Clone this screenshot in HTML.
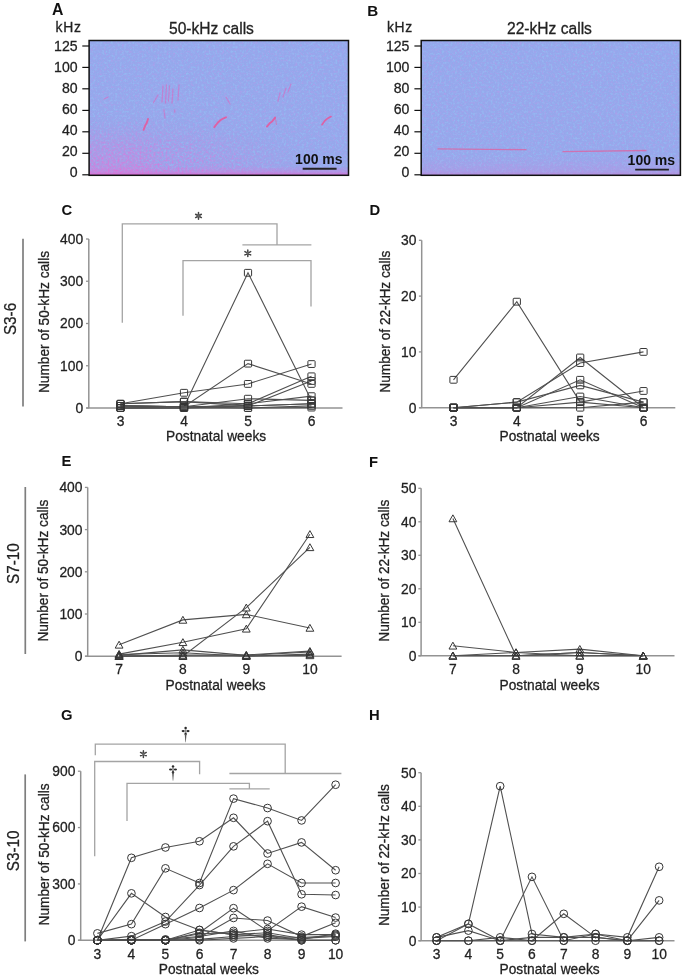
<!DOCTYPE html>
<html><head><meta charset="utf-8"><style>
html,body{margin:0;padding:0;background:#fff;}
body{width:685px;height:979px;overflow:hidden;}
svg{display:block;font-family:"Liberation Sans", sans-serif;will-change:transform;filter:blur(0.35px);}
</style></head><body>
<svg width="685" height="979" viewBox="0 0 685 979">
<defs>
<filter id="nPink" x="0" y="0" width="100%" height="100%" color-interpolation-filters="sRGB">
<feTurbulence type="fractalNoise" baseFrequency="0.45" numOctaves="2" seed="7" result="n"/>
<feColorMatrix in="n" type="matrix" values="0 0 0 0 0.68  0 0 0 0 0.62  0 0 0 0 0.92  3.2 0 0 0 -1.55"/>
</filter>
<filter id="nBlue" x="0" y="0" width="100%" height="100%" color-interpolation-filters="sRGB">
<feTurbulence type="fractalNoise" baseFrequency="0.45" numOctaves="2" seed="19" result="n"/>
<feColorMatrix in="n" type="matrix" values="0 0 0 0 0.58  0 0 0 0 0.73  0 0 0 0 0.95  3.2 0 0 0 -1.55"/>
</filter>
<filter id="soft" x="-20%" y="-20%" width="140%" height="140%"><feGaussianBlur stdDeviation="0.45"/></filter>
<filter id="nMag" x="0" y="0" width="100%" height="100%" color-interpolation-filters="sRGB">
<feTurbulence type="fractalNoise" baseFrequency="0.5" numOctaves="2" seed="31" result="n"/>
<feColorMatrix in="n" type="matrix" values="0 0 0 0 0.88  0 0 0 0 0.45  0 0 0 0 0.85  2.6 0 0 0 -1.05"/>
</filter>
<radialGradient id="gA" cx="0.12" cy="1" r="0.75" fx="0.12" fy="1" gradientTransform="translate(0.12 1) scale(1 1.3) translate(-0.12 -1)">
<stop offset="0" stop-color="#fff" stop-opacity="1"/><stop offset="0.5" stop-color="#fff" stop-opacity="0.55"/><stop offset="1" stop-color="#fff" stop-opacity="0"/>
</radialGradient>
<mask id="mA" maskContentUnits="objectBoundingBox"><rect width="1" height="1" fill="url(#gA)"/></mask>
<linearGradient id="bg" x1="0" y1="0" x2="0" y2="1">
<stop offset="0" stop-color="#95a8ec"/><stop offset="1" stop-color="#97a7eb"/>
</linearGradient>
<linearGradient id="pinkA" x1="0" y1="0" x2="0" y2="1">
<stop offset="0" stop-color="#e070d8" stop-opacity="0"/>
<stop offset="0.6" stop-color="#e070d8" stop-opacity="0.35"/>
<stop offset="1" stop-color="#e060d0" stop-opacity="0.75"/>
</linearGradient>
<linearGradient id="pinkA2" x1="0" y1="0" x2="0" y2="1">
<stop offset="0" stop-color="#d880d8" stop-opacity="0"/>
<stop offset="1" stop-color="#d880d8" stop-opacity="0.45"/>
</linearGradient>
<linearGradient id="fadeRg" x1="0" y1="0" x2="1" y2="0">
<stop offset="0" stop-color="#fff"/><stop offset="0.6" stop-color="#fff"/><stop offset="1" stop-color="#fff" stop-opacity="0"/>
</linearGradient>
<mask id="fadeR" maskContentUnits="objectBoundingBox"><rect width="1" height="1" fill="url(#fadeRg)"/></mask>
<linearGradient id="pinkB" x1="0" y1="0" x2="0" y2="1">
<stop offset="0.85" stop-color="#c890e0" stop-opacity="0"/>
<stop offset="0.97" stop-color="#d080d8" stop-opacity="0.25"/>
<stop offset="1" stop-color="#d070d0" stop-opacity="0.5"/>
</linearGradient>
</defs>
<rect width="685" height="979" fill="#fff"/>
<g>
<text transform="translate(52.00 14.60)" font-size="15.8" text-anchor="start" font-weight="bold" fill="#111">A</text>
<text transform="translate(55.60 32.40)" font-size="13.9" text-anchor="start" fill="#222" stroke="#222" stroke-width="0.28" letter-spacing="0.7">kHz</text>
<text transform="translate(169.00 33.50)" font-size="15.6" text-anchor="start" fill="#222" stroke="#222" stroke-width="0.28">50-kHz calls</text>
<rect x="89.1" y="40.5" width="259.4" height="134.8" fill="url(#bg)"/>
<rect x="89.1" y="40.5" width="259.4" height="134.8" fill="#fff" filter="url(#nPink)" opacity="0.75"/>
<rect x="89.1" y="40.5" width="259.4" height="134.8" fill="#fff" filter="url(#nBlue)" opacity="0.9"/>
<rect x="89.1" y="127.30000000000001" width="75" height="48" fill="url(#pinkA2)" mask="url(#fadeR)" opacity="0.7"/>
<rect x="89.1" y="115.30000000000001" width="259.4" height="60" fill="#fff" filter="url(#nMag)" mask="url(#mA)"/>
<rect x="89.1" y="166.3" width="259.4" height="9" fill="url(#pinkA)"/>
<rect x="89.1" y="40.5" width="259.4" height="134.8" fill="none" stroke="#111" stroke-width="1.5"/>
<line x1="82.30" y1="46.00" x2="89.10" y2="46.00" stroke="#111" stroke-width="1.2"/>
<text transform="translate(77.60 50.70) scale(0.94 1)" font-size="15.0" text-anchor="end" fill="#222" stroke="#222" stroke-width="0.28">125</text>
<line x1="82.30" y1="67.40" x2="89.10" y2="67.40" stroke="#111" stroke-width="1.2"/>
<text transform="translate(77.60 71.80) scale(0.94 1)" font-size="15.0" text-anchor="end" fill="#222" stroke="#222" stroke-width="0.28">100</text>
<line x1="82.30" y1="88.80" x2="89.10" y2="88.80" stroke="#111" stroke-width="1.2"/>
<text transform="translate(77.60 92.90) scale(0.94 1)" font-size="15.0" text-anchor="end" fill="#222" stroke="#222" stroke-width="0.28">80</text>
<line x1="82.30" y1="110.40" x2="89.10" y2="110.40" stroke="#111" stroke-width="1.2"/>
<text transform="translate(77.60 114.00) scale(0.94 1)" font-size="15.0" text-anchor="end" fill="#222" stroke="#222" stroke-width="0.28">60</text>
<line x1="82.30" y1="131.80" x2="89.10" y2="131.80" stroke="#111" stroke-width="1.2"/>
<text transform="translate(77.60 135.10) scale(0.94 1)" font-size="15.0" text-anchor="end" fill="#222" stroke="#222" stroke-width="0.28">40</text>
<line x1="82.30" y1="153.30" x2="89.10" y2="153.30" stroke="#111" stroke-width="1.2"/>
<text transform="translate(77.60 156.20) scale(0.94 1)" font-size="15.0" text-anchor="end" fill="#222" stroke="#222" stroke-width="0.28">20</text>
<line x1="82.30" y1="174.80" x2="89.10" y2="174.80" stroke="#111" stroke-width="1.2"/>
<text transform="translate(77.60 177.30) scale(0.94 1)" font-size="15.0" text-anchor="end" fill="#222" stroke="#222" stroke-width="0.28">0</text>
<g fill="none" stroke="#e55a9e" stroke-linecap="round" filter="url(#soft)" opacity="0.9">
<path d="M143.5 129.8 L145.5 125 L146.5 123.5 L148 119" stroke-width="1.9"/>
<path d="M214.3 127.2 L218 122.5 L220 120.5 L223 118.5 L226 117.3" stroke-width="1.9"/>
<path d="M266.9 126.6 L270 123 L272.2 121.4 L275.1 117.6" stroke-width="1.9"/>
<path d="M275.4 118 L276.5 124.5" stroke-width="1.1" opacity="0.6"/>
<path d="M322 124.7 L325 120.5 L327.5 118.5 L331 116.6" stroke-width="1.7"/>
</g>
<g fill="none" stroke="#d868c0" stroke-width="1.3" opacity="0.6" stroke-linecap="round" stroke-dasharray="2.2 1.2" filter="url(#soft)">
<path d="M162 102 L163 86"/>
<path d="M165.5 103 L166.5 85"/>
<path d="M168.5 101 L169.5 86"/>
<path d="M172 103 L173 89"/>
<path d="M178 100 L179 85"/>
<path d="M153.5 102.5 L158 95"/>
<path d="M104 99 L108 97"/>
<path d="M226 97 L230 104"/>
<path d="M278 101 L280 93 M283 97 L286 88 M288 92 L291 84"/>
<path d="M164 110 L165 118 M174.5 110 L175 113"/>
</g>
<text transform="translate(295.10 163.90)" font-size="14.0" text-anchor="start" font-weight="bold" fill="#111">100 ms</text>
<line x1="302.70" y1="168.70" x2="336.60" y2="168.70" stroke="#222" stroke-width="1.9"/>
</g>
<g>
<text transform="translate(367.30 16.10)" font-size="15.2" text-anchor="start" font-weight="bold" fill="#111">B</text>
<text transform="translate(386.90 32.40)" font-size="13.9" text-anchor="start" fill="#222" stroke="#222" stroke-width="0.28" letter-spacing="0.7">kHz</text>
<text transform="translate(507.00 33.50)" font-size="15.6" text-anchor="start" fill="#222" stroke="#222" stroke-width="0.28">22-kHz calls</text>
<rect x="421.2" y="40.5" width="259.2" height="134.8" fill="url(#bg)"/>
<rect x="421.2" y="40.5" width="259.2" height="134.8" fill="#fff" filter="url(#nPink)" opacity="0.75"/>
<rect x="421.2" y="40.5" width="259.2" height="134.8" fill="#fff" filter="url(#nBlue)" opacity="0.9"/>
<rect x="421.2" y="40.5" width="259.2" height="134.8" fill="url(#pinkB)"/>
<rect x="421.2" y="40.5" width="259.2" height="134.8" fill="none" stroke="#111" stroke-width="1.5"/>
<line x1="414.40" y1="46.00" x2="421.20" y2="46.00" stroke="#111" stroke-width="1.2"/>
<text transform="translate(409.40 50.70) scale(0.94 1)" font-size="15.0" text-anchor="end" fill="#222" stroke="#222" stroke-width="0.28">125</text>
<line x1="414.40" y1="67.40" x2="421.20" y2="67.40" stroke="#111" stroke-width="1.2"/>
<text transform="translate(409.40 71.80) scale(0.94 1)" font-size="15.0" text-anchor="end" fill="#222" stroke="#222" stroke-width="0.28">100</text>
<line x1="414.40" y1="88.80" x2="421.20" y2="88.80" stroke="#111" stroke-width="1.2"/>
<text transform="translate(409.40 92.90) scale(0.94 1)" font-size="15.0" text-anchor="end" fill="#222" stroke="#222" stroke-width="0.28">80</text>
<line x1="414.40" y1="110.40" x2="421.20" y2="110.40" stroke="#111" stroke-width="1.2"/>
<text transform="translate(409.40 114.00) scale(0.94 1)" font-size="15.0" text-anchor="end" fill="#222" stroke="#222" stroke-width="0.28">60</text>
<line x1="414.40" y1="131.80" x2="421.20" y2="131.80" stroke="#111" stroke-width="1.2"/>
<text transform="translate(409.40 135.10) scale(0.94 1)" font-size="15.0" text-anchor="end" fill="#222" stroke="#222" stroke-width="0.28">40</text>
<line x1="414.40" y1="153.30" x2="421.20" y2="153.30" stroke="#111" stroke-width="1.2"/>
<text transform="translate(409.40 156.20) scale(0.94 1)" font-size="15.0" text-anchor="end" fill="#222" stroke="#222" stroke-width="0.28">20</text>
<line x1="414.40" y1="174.80" x2="421.20" y2="174.80" stroke="#111" stroke-width="1.2"/>
<text transform="translate(409.40 177.30) scale(0.94 1)" font-size="15.0" text-anchor="end" fill="#222" stroke="#222" stroke-width="0.28">0</text>
<g fill="none" stroke="#e0609e" stroke-width="1.3" opacity="0.75" filter="url(#soft)">
<path d="M437.5 148.9 L526.5 149.7"/>
<path d="M562.5 151.7 L646.5 150.5"/>
</g>
<text transform="translate(627.60 164.90)" font-size="14.0" text-anchor="start" font-weight="bold" fill="#111">100 ms</text>
<line x1="635.20" y1="169.60" x2="668.90" y2="169.60" stroke="#222" stroke-width="1.9"/>
</g>
<text transform="translate(61.50 215.20)" font-size="14.8" text-anchor="start" font-weight="bold" fill="#111">C</text>
<text transform="translate(16.20 335.10) rotate(-90) scale(0.92 1)" font-size="16.6" text-anchor="start" fill="#222" stroke="#222" stroke-width="0.28">S3-6</text>
<line x1="23.00" y1="238.80" x2="23.00" y2="406.60" stroke="#7e7e7e" stroke-width="1.7"/>
<line x1="88.80" y1="239.00" x2="88.80" y2="408.00" stroke="#939393" stroke-width="1.5"/>
<line x1="86.30" y1="408.00" x2="342.50" y2="408.00" stroke="#939393" stroke-width="1.5"/>
<line x1="86.00" y1="408.00" x2="88.80" y2="408.00" stroke="#939393" stroke-width="1.3"/>
<text transform="translate(83.20 412.90) scale(0.95 1)" font-size="14.6" text-anchor="end" fill="#222" stroke="#222" stroke-width="0.28">0</text>
<line x1="86.00" y1="365.75" x2="88.80" y2="365.75" stroke="#939393" stroke-width="1.3"/>
<text transform="translate(83.20 370.65) scale(0.95 1)" font-size="14.6" text-anchor="end" fill="#222" stroke="#222" stroke-width="0.28">100</text>
<line x1="86.00" y1="323.50" x2="88.80" y2="323.50" stroke="#939393" stroke-width="1.3"/>
<text transform="translate(83.20 328.40) scale(0.95 1)" font-size="14.6" text-anchor="end" fill="#222" stroke="#222" stroke-width="0.28">200</text>
<line x1="86.00" y1="281.25" x2="88.80" y2="281.25" stroke="#939393" stroke-width="1.3"/>
<text transform="translate(83.20 286.15) scale(0.95 1)" font-size="14.6" text-anchor="end" fill="#222" stroke="#222" stroke-width="0.28">300</text>
<line x1="86.00" y1="239.00" x2="88.80" y2="239.00" stroke="#939393" stroke-width="1.3"/>
<text transform="translate(83.20 243.90) scale(0.95 1)" font-size="14.6" text-anchor="end" fill="#222" stroke="#222" stroke-width="0.28">400</text>
<text transform="translate(120.50 425.80) scale(0.95 1)" font-size="14.6" text-anchor="middle" fill="#222" stroke="#222" stroke-width="0.28">3</text>
<text transform="translate(184.00 425.80) scale(0.95 1)" font-size="14.6" text-anchor="middle" fill="#222" stroke="#222" stroke-width="0.28">4</text>
<text transform="translate(248.00 425.80) scale(0.95 1)" font-size="14.6" text-anchor="middle" fill="#222" stroke="#222" stroke-width="0.28">5</text>
<text transform="translate(311.50 425.80) scale(0.95 1)" font-size="14.6" text-anchor="middle" fill="#222" stroke="#222" stroke-width="0.28">6</text>
<text transform="translate(166.00 441.10) scale(0.97 1)" font-size="14.2" text-anchor="start" fill="#222" stroke="#222" stroke-width="0.28">Postnatal weeks</text>
<text transform="translate(48.80 393.00) rotate(-90) scale(0.95 1)" font-size="14.4" text-anchor="start" fill="#222" stroke="#222" stroke-width="0.28">Number of 50-kHz calls</text>
<g>
<polyline points="120.50,403.77 184.00,392.79 248.00,383.92 311.50,364.06" stroke="#505050" stroke-width="1.1" fill="none"/>
<polyline points="120.50,405.89 184.00,406.73 248.00,272.80 311.50,400.39" stroke="#505050" stroke-width="1.1" fill="none"/>
<polyline points="120.50,405.89 184.00,406.73 248.00,363.64 311.50,383.92" stroke="#505050" stroke-width="1.1" fill="none"/>
<polyline points="120.50,403.77 184.00,401.66 248.00,403.77 311.50,376.31" stroke="#505050" stroke-width="1.1" fill="none"/>
<polyline points="120.50,405.89 184.00,406.73 248.00,405.89 311.50,380.96" stroke="#505050" stroke-width="1.1" fill="none"/>
<polyline points="120.50,408.00 184.00,406.73 248.00,398.70 311.50,400.39" stroke="#505050" stroke-width="1.1" fill="none"/>
<polyline points="120.50,408.00 184.00,408.00 248.00,405.89 311.50,403.77" stroke="#505050" stroke-width="1.1" fill="none"/>
<polyline points="120.50,405.89 184.00,406.73 248.00,408.00 311.50,405.89" stroke="#505050" stroke-width="1.1" fill="none"/>
<polyline points="120.50,408.00 184.00,408.00 248.00,408.00 311.50,407.58" stroke="#505050" stroke-width="1.1" fill="none"/>
<polyline points="120.50,408.00 184.00,408.00 248.00,403.77 311.50,396.17" stroke="#505050" stroke-width="1.1" fill="none"/>
<polyline points="120.50,403.77 184.00,401.66 248.00,405.89 311.50,403.77" stroke="#505050" stroke-width="1.1" fill="none"/>
<rect x="116.90" y="400.38" width="7.2" height="6.8" rx="0.8" fill="none" stroke="#363636" stroke-width="1"/>
<rect x="180.40" y="389.39" width="7.2" height="6.8" rx="0.8" fill="none" stroke="#363636" stroke-width="1"/>
<rect x="244.40" y="380.52" width="7.2" height="6.8" rx="0.8" fill="none" stroke="#363636" stroke-width="1"/>
<rect x="307.90" y="360.66" width="7.2" height="6.8" rx="0.8" fill="none" stroke="#363636" stroke-width="1"/>
<rect x="116.90" y="402.49" width="7.2" height="6.8" rx="0.8" fill="none" stroke="#363636" stroke-width="1"/>
<rect x="180.40" y="403.33" width="7.2" height="6.8" rx="0.8" fill="none" stroke="#363636" stroke-width="1"/>
<rect x="244.40" y="269.40" width="7.2" height="6.8" rx="0.8" fill="none" stroke="#363636" stroke-width="1"/>
<rect x="307.90" y="397.00" width="7.2" height="6.8" rx="0.8" fill="none" stroke="#363636" stroke-width="1"/>
<rect x="116.90" y="402.49" width="7.2" height="6.8" rx="0.8" fill="none" stroke="#363636" stroke-width="1"/>
<rect x="180.40" y="403.33" width="7.2" height="6.8" rx="0.8" fill="none" stroke="#363636" stroke-width="1"/>
<rect x="244.40" y="360.24" width="7.2" height="6.8" rx="0.8" fill="none" stroke="#363636" stroke-width="1"/>
<rect x="307.90" y="380.52" width="7.2" height="6.8" rx="0.8" fill="none" stroke="#363636" stroke-width="1"/>
<rect x="116.90" y="400.38" width="7.2" height="6.8" rx="0.8" fill="none" stroke="#363636" stroke-width="1"/>
<rect x="180.40" y="398.26" width="7.2" height="6.8" rx="0.8" fill="none" stroke="#363636" stroke-width="1"/>
<rect x="244.40" y="400.38" width="7.2" height="6.8" rx="0.8" fill="none" stroke="#363636" stroke-width="1"/>
<rect x="307.90" y="372.91" width="7.2" height="6.8" rx="0.8" fill="none" stroke="#363636" stroke-width="1"/>
<rect x="116.90" y="402.49" width="7.2" height="6.8" rx="0.8" fill="none" stroke="#363636" stroke-width="1"/>
<rect x="180.40" y="403.33" width="7.2" height="6.8" rx="0.8" fill="none" stroke="#363636" stroke-width="1"/>
<rect x="244.40" y="402.49" width="7.2" height="6.8" rx="0.8" fill="none" stroke="#363636" stroke-width="1"/>
<rect x="307.90" y="377.56" width="7.2" height="6.8" rx="0.8" fill="none" stroke="#363636" stroke-width="1"/>
<rect x="116.90" y="404.60" width="7.2" height="6.8" rx="0.8" fill="none" stroke="#363636" stroke-width="1"/>
<rect x="180.40" y="403.33" width="7.2" height="6.8" rx="0.8" fill="none" stroke="#363636" stroke-width="1"/>
<rect x="244.40" y="395.31" width="7.2" height="6.8" rx="0.8" fill="none" stroke="#363636" stroke-width="1"/>
<rect x="307.90" y="397.00" width="7.2" height="6.8" rx="0.8" fill="none" stroke="#363636" stroke-width="1"/>
<rect x="116.90" y="404.60" width="7.2" height="6.8" rx="0.8" fill="none" stroke="#363636" stroke-width="1"/>
<rect x="180.40" y="404.60" width="7.2" height="6.8" rx="0.8" fill="none" stroke="#363636" stroke-width="1"/>
<rect x="244.40" y="402.49" width="7.2" height="6.8" rx="0.8" fill="none" stroke="#363636" stroke-width="1"/>
<rect x="307.90" y="400.38" width="7.2" height="6.8" rx="0.8" fill="none" stroke="#363636" stroke-width="1"/>
<rect x="116.90" y="402.49" width="7.2" height="6.8" rx="0.8" fill="none" stroke="#363636" stroke-width="1"/>
<rect x="180.40" y="403.33" width="7.2" height="6.8" rx="0.8" fill="none" stroke="#363636" stroke-width="1"/>
<rect x="244.40" y="404.60" width="7.2" height="6.8" rx="0.8" fill="none" stroke="#363636" stroke-width="1"/>
<rect x="307.90" y="402.49" width="7.2" height="6.8" rx="0.8" fill="none" stroke="#363636" stroke-width="1"/>
<rect x="116.90" y="404.60" width="7.2" height="6.8" rx="0.8" fill="none" stroke="#363636" stroke-width="1"/>
<rect x="180.40" y="404.60" width="7.2" height="6.8" rx="0.8" fill="none" stroke="#363636" stroke-width="1"/>
<rect x="244.40" y="404.60" width="7.2" height="6.8" rx="0.8" fill="none" stroke="#363636" stroke-width="1"/>
<rect x="307.90" y="404.18" width="7.2" height="6.8" rx="0.8" fill="none" stroke="#363636" stroke-width="1"/>
<rect x="116.90" y="404.60" width="7.2" height="6.8" rx="0.8" fill="none" stroke="#363636" stroke-width="1"/>
<rect x="180.40" y="404.60" width="7.2" height="6.8" rx="0.8" fill="none" stroke="#363636" stroke-width="1"/>
<rect x="244.40" y="400.38" width="7.2" height="6.8" rx="0.8" fill="none" stroke="#363636" stroke-width="1"/>
<rect x="307.90" y="392.77" width="7.2" height="6.8" rx="0.8" fill="none" stroke="#363636" stroke-width="1"/>
<rect x="116.90" y="400.38" width="7.2" height="6.8" rx="0.8" fill="none" stroke="#363636" stroke-width="1"/>
<rect x="180.40" y="398.26" width="7.2" height="6.8" rx="0.8" fill="none" stroke="#363636" stroke-width="1"/>
<rect x="244.40" y="402.49" width="7.2" height="6.8" rx="0.8" fill="none" stroke="#363636" stroke-width="1"/>
<rect x="307.90" y="400.38" width="7.2" height="6.8" rx="0.8" fill="none" stroke="#363636" stroke-width="1"/>
</g>
<g fill="none" stroke="#a4a4a4" stroke-width="1.3">
<polyline points="122.3,322.8 122.3,223.8 277,223.8 277,244.9"/>
<line x1="242.4" y1="244.9" x2="311.4" y2="244.9"/>
<polyline points="183,315.8 183,260.7 311,260.7 311,306.6"/>
</g>
<path d="M198.50 212.60L198.50 219.20M195.64 214.25L201.36 217.55M195.64 217.55L201.36 214.25" stroke="#444" stroke-width="1.5" stroke-linecap="round" fill="none"/>
<circle cx="198.5" cy="215.9" r="1.3" fill="#666"/>
<path d="M247.80 250.00L247.80 256.60M244.94 251.65L250.66 254.95M244.94 254.95L250.66 251.65" stroke="#444" stroke-width="1.5" stroke-linecap="round" fill="none"/>
<circle cx="247.8" cy="253.3" r="1.3" fill="#666"/>
<text transform="translate(369.50 215.20)" font-size="14.8" text-anchor="start" font-weight="bold" fill="#111">D</text>
<line x1="421.70" y1="240.30" x2="421.70" y2="407.70" stroke="#939393" stroke-width="1.5"/>
<line x1="419.20" y1="407.70" x2="675.30" y2="407.70" stroke="#939393" stroke-width="1.5"/>
<line x1="418.90" y1="407.70" x2="421.70" y2="407.70" stroke="#939393" stroke-width="1.3"/>
<text transform="translate(416.50 412.60) scale(0.95 1)" font-size="14.6" text-anchor="end" fill="#222" stroke="#222" stroke-width="0.28">0</text>
<line x1="418.90" y1="351.90" x2="421.70" y2="351.90" stroke="#939393" stroke-width="1.3"/>
<text transform="translate(416.50 356.80) scale(0.95 1)" font-size="14.6" text-anchor="end" fill="#222" stroke="#222" stroke-width="0.28">10</text>
<line x1="418.90" y1="296.10" x2="421.70" y2="296.10" stroke="#939393" stroke-width="1.3"/>
<text transform="translate(416.50 301.00) scale(0.95 1)" font-size="14.6" text-anchor="end" fill="#222" stroke="#222" stroke-width="0.28">20</text>
<line x1="418.90" y1="240.30" x2="421.70" y2="240.30" stroke="#939393" stroke-width="1.3"/>
<text transform="translate(416.50 245.20) scale(0.95 1)" font-size="14.6" text-anchor="end" fill="#222" stroke="#222" stroke-width="0.28">30</text>
<text transform="translate(453.50 425.60) scale(0.95 1)" font-size="14.6" text-anchor="middle" fill="#222" stroke="#222" stroke-width="0.28">3</text>
<text transform="translate(516.80 425.60) scale(0.95 1)" font-size="14.6" text-anchor="middle" fill="#222" stroke="#222" stroke-width="0.28">4</text>
<text transform="translate(580.20 425.60) scale(0.95 1)" font-size="14.6" text-anchor="middle" fill="#222" stroke="#222" stroke-width="0.28">5</text>
<text transform="translate(643.50 425.60) scale(0.95 1)" font-size="14.6" text-anchor="middle" fill="#222" stroke="#222" stroke-width="0.28">6</text>
<text transform="translate(499.50 441.10) scale(0.97 1)" font-size="14.2" text-anchor="start" fill="#222" stroke="#222" stroke-width="0.28">Postnatal weeks</text>
<text transform="translate(389.60 392.70) rotate(-90) scale(0.95 1)" font-size="14.4" text-anchor="start" fill="#222" stroke="#222" stroke-width="0.28">Number of 22-kHz calls</text>
<g>
<polyline points="453.50,379.80 516.80,301.68 580.20,402.12 643.50,390.96" stroke="#505050" stroke-width="1.1" fill="none"/>
<polyline points="453.50,407.70 516.80,407.70 580.20,357.48 643.50,407.70" stroke="#505050" stroke-width="1.1" fill="none"/>
<polyline points="453.50,407.70 516.80,402.12 580.20,363.06 643.50,351.90" stroke="#505050" stroke-width="1.1" fill="none"/>
<polyline points="453.50,407.70 516.80,407.70 580.20,379.80 643.50,407.70" stroke="#505050" stroke-width="1.1" fill="none"/>
<polyline points="453.50,407.70 516.80,402.12 580.20,385.38 643.50,402.12" stroke="#505050" stroke-width="1.1" fill="none"/>
<polyline points="453.50,407.70 516.80,407.70 580.20,396.54 643.50,407.70" stroke="#505050" stroke-width="1.1" fill="none"/>
<polyline points="453.50,407.70 516.80,407.70 580.20,402.12 643.50,407.70" stroke="#505050" stroke-width="1.1" fill="none"/>
<polyline points="453.50,407.70 516.80,407.70 580.20,407.70 643.50,402.12" stroke="#505050" stroke-width="1.1" fill="none"/>
<rect x="449.90" y="376.40" width="7.2" height="6.8" rx="0.8" fill="none" stroke="#363636" stroke-width="1"/>
<rect x="513.20" y="298.28" width="7.2" height="6.8" rx="0.8" fill="none" stroke="#363636" stroke-width="1"/>
<rect x="576.60" y="398.72" width="7.2" height="6.8" rx="0.8" fill="none" stroke="#363636" stroke-width="1"/>
<rect x="639.90" y="387.56" width="7.2" height="6.8" rx="0.8" fill="none" stroke="#363636" stroke-width="1"/>
<rect x="449.90" y="404.30" width="7.2" height="6.8" rx="0.8" fill="none" stroke="#363636" stroke-width="1"/>
<rect x="513.20" y="404.30" width="7.2" height="6.8" rx="0.8" fill="none" stroke="#363636" stroke-width="1"/>
<rect x="576.60" y="354.08" width="7.2" height="6.8" rx="0.8" fill="none" stroke="#363636" stroke-width="1"/>
<rect x="639.90" y="404.30" width="7.2" height="6.8" rx="0.8" fill="none" stroke="#363636" stroke-width="1"/>
<rect x="449.90" y="404.30" width="7.2" height="6.8" rx="0.8" fill="none" stroke="#363636" stroke-width="1"/>
<rect x="513.20" y="398.72" width="7.2" height="6.8" rx="0.8" fill="none" stroke="#363636" stroke-width="1"/>
<rect x="576.60" y="359.66" width="7.2" height="6.8" rx="0.8" fill="none" stroke="#363636" stroke-width="1"/>
<rect x="639.90" y="348.50" width="7.2" height="6.8" rx="0.8" fill="none" stroke="#363636" stroke-width="1"/>
<rect x="449.90" y="404.30" width="7.2" height="6.8" rx="0.8" fill="none" stroke="#363636" stroke-width="1"/>
<rect x="513.20" y="404.30" width="7.2" height="6.8" rx="0.8" fill="none" stroke="#363636" stroke-width="1"/>
<rect x="576.60" y="376.40" width="7.2" height="6.8" rx="0.8" fill="none" stroke="#363636" stroke-width="1"/>
<rect x="639.90" y="404.30" width="7.2" height="6.8" rx="0.8" fill="none" stroke="#363636" stroke-width="1"/>
<rect x="449.90" y="404.30" width="7.2" height="6.8" rx="0.8" fill="none" stroke="#363636" stroke-width="1"/>
<rect x="513.20" y="398.72" width="7.2" height="6.8" rx="0.8" fill="none" stroke="#363636" stroke-width="1"/>
<rect x="576.60" y="381.98" width="7.2" height="6.8" rx="0.8" fill="none" stroke="#363636" stroke-width="1"/>
<rect x="639.90" y="398.72" width="7.2" height="6.8" rx="0.8" fill="none" stroke="#363636" stroke-width="1"/>
<rect x="449.90" y="404.30" width="7.2" height="6.8" rx="0.8" fill="none" stroke="#363636" stroke-width="1"/>
<rect x="513.20" y="404.30" width="7.2" height="6.8" rx="0.8" fill="none" stroke="#363636" stroke-width="1"/>
<rect x="576.60" y="393.14" width="7.2" height="6.8" rx="0.8" fill="none" stroke="#363636" stroke-width="1"/>
<rect x="639.90" y="404.30" width="7.2" height="6.8" rx="0.8" fill="none" stroke="#363636" stroke-width="1"/>
<rect x="449.90" y="404.30" width="7.2" height="6.8" rx="0.8" fill="none" stroke="#363636" stroke-width="1"/>
<rect x="513.20" y="404.30" width="7.2" height="6.8" rx="0.8" fill="none" stroke="#363636" stroke-width="1"/>
<rect x="576.60" y="398.72" width="7.2" height="6.8" rx="0.8" fill="none" stroke="#363636" stroke-width="1"/>
<rect x="639.90" y="404.30" width="7.2" height="6.8" rx="0.8" fill="none" stroke="#363636" stroke-width="1"/>
<rect x="449.90" y="404.30" width="7.2" height="6.8" rx="0.8" fill="none" stroke="#363636" stroke-width="1"/>
<rect x="513.20" y="404.30" width="7.2" height="6.8" rx="0.8" fill="none" stroke="#363636" stroke-width="1"/>
<rect x="576.60" y="404.30" width="7.2" height="6.8" rx="0.8" fill="none" stroke="#363636" stroke-width="1"/>
<rect x="639.90" y="398.72" width="7.2" height="6.8" rx="0.8" fill="none" stroke="#363636" stroke-width="1"/>
</g>
<text transform="translate(61.50 465.80)" font-size="14.8" text-anchor="start" font-weight="bold" fill="#111">E</text>
<text transform="translate(18.60 583.90) rotate(-90) scale(0.92 1)" font-size="16.6" text-anchor="start" fill="#222" stroke="#222" stroke-width="0.28">S7-10</text>
<line x1="25.30" y1="487.00" x2="25.30" y2="654.00" stroke="#7e7e7e" stroke-width="1.7"/>
<line x1="87.70" y1="487.40" x2="87.70" y2="656.20" stroke="#939393" stroke-width="1.5"/>
<line x1="85.20" y1="656.20" x2="341.60" y2="656.20" stroke="#939393" stroke-width="1.5"/>
<line x1="84.90" y1="656.20" x2="87.70" y2="656.20" stroke="#939393" stroke-width="1.3"/>
<text transform="translate(82.50 661.10) scale(0.95 1)" font-size="14.6" text-anchor="end" fill="#222" stroke="#222" stroke-width="0.28">0</text>
<line x1="84.90" y1="614.00" x2="87.70" y2="614.00" stroke="#939393" stroke-width="1.3"/>
<text transform="translate(82.50 618.90) scale(0.95 1)" font-size="14.6" text-anchor="end" fill="#222" stroke="#222" stroke-width="0.28">100</text>
<line x1="84.90" y1="571.80" x2="87.70" y2="571.80" stroke="#939393" stroke-width="1.3"/>
<text transform="translate(82.50 576.70) scale(0.95 1)" font-size="14.6" text-anchor="end" fill="#222" stroke="#222" stroke-width="0.28">200</text>
<line x1="84.90" y1="529.60" x2="87.70" y2="529.60" stroke="#939393" stroke-width="1.3"/>
<text transform="translate(82.50 534.50) scale(0.95 1)" font-size="14.6" text-anchor="end" fill="#222" stroke="#222" stroke-width="0.28">300</text>
<line x1="84.90" y1="487.40" x2="87.70" y2="487.40" stroke="#939393" stroke-width="1.3"/>
<text transform="translate(82.50 492.30) scale(0.95 1)" font-size="14.6" text-anchor="end" fill="#222" stroke="#222" stroke-width="0.28">400</text>
<text transform="translate(119.10 674.40) scale(0.95 1)" font-size="14.6" text-anchor="middle" fill="#222" stroke="#222" stroke-width="0.28">7</text>
<text transform="translate(182.90 674.40) scale(0.95 1)" font-size="14.6" text-anchor="middle" fill="#222" stroke="#222" stroke-width="0.28">8</text>
<text transform="translate(246.30 674.40) scale(0.95 1)" font-size="14.6" text-anchor="middle" fill="#222" stroke="#222" stroke-width="0.28">9</text>
<text transform="translate(309.90 674.40) scale(0.95 1)" font-size="14.6" text-anchor="middle" fill="#222" stroke="#222" stroke-width="0.28">10</text>
<text transform="translate(165.50 690.30) scale(0.97 1)" font-size="14.2" text-anchor="start" fill="#222" stroke="#222" stroke-width="0.28">Postnatal weeks</text>
<text transform="translate(48.20 641.60) rotate(-90) scale(0.95 1)" font-size="14.4" text-anchor="start" fill="#222" stroke="#222" stroke-width="0.28">Number of 50-kHz calls</text>
<g>
<polyline points="119.10,644.81 182.90,619.91 246.30,614.42 309.90,627.93" stroke="#505050" stroke-width="1.1" fill="none"/>
<polyline points="119.10,654.09 182.90,642.27 246.30,628.77 309.90,534.24" stroke="#505050" stroke-width="1.1" fill="none"/>
<polyline points="119.10,656.20 182.90,656.20 246.30,607.67 309.90,547.32" stroke="#505050" stroke-width="1.1" fill="none"/>
<polyline points="119.10,655.36 182.90,649.87 246.30,655.36 309.90,651.98" stroke="#505050" stroke-width="1.1" fill="none"/>
<polyline points="119.10,654.51 182.90,652.82 246.30,656.20 309.90,654.09" stroke="#505050" stroke-width="1.1" fill="none"/>
<polyline points="119.10,656.20 182.90,654.93 246.30,654.93 309.90,651.14" stroke="#505050" stroke-width="1.1" fill="none"/>
<polyline points="119.10,655.78 182.90,655.78 246.30,655.78 309.90,655.36" stroke="#505050" stroke-width="1.1" fill="none"/>
<path d="M119.10 641.21 L123.00 648.11 L115.20 648.11 Z" fill="none" stroke="#363636" stroke-width="1" stroke-linejoin="round"/>
<path d="M182.90 616.31 L186.80 623.21 L179.00 623.21 Z" fill="none" stroke="#363636" stroke-width="1" stroke-linejoin="round"/>
<path d="M246.30 610.82 L250.20 617.72 L242.40 617.72 Z" fill="none" stroke="#363636" stroke-width="1" stroke-linejoin="round"/>
<path d="M309.90 624.33 L313.80 631.23 L306.00 631.23 Z" fill="none" stroke="#363636" stroke-width="1" stroke-linejoin="round"/>
<path d="M119.10 650.49 L123.00 657.39 L115.20 657.39 Z" fill="none" stroke="#363636" stroke-width="1" stroke-linejoin="round"/>
<path d="M182.90 638.67 L186.80 645.57 L179.00 645.57 Z" fill="none" stroke="#363636" stroke-width="1" stroke-linejoin="round"/>
<path d="M246.30 625.17 L250.20 632.07 L242.40 632.07 Z" fill="none" stroke="#363636" stroke-width="1" stroke-linejoin="round"/>
<path d="M309.90 530.64 L313.80 537.54 L306.00 537.54 Z" fill="none" stroke="#363636" stroke-width="1" stroke-linejoin="round"/>
<path d="M119.10 652.60 L123.00 659.50 L115.20 659.50 Z" fill="none" stroke="#363636" stroke-width="1" stroke-linejoin="round"/>
<path d="M182.90 652.60 L186.80 659.50 L179.00 659.50 Z" fill="none" stroke="#363636" stroke-width="1" stroke-linejoin="round"/>
<path d="M246.30 604.07 L250.20 610.97 L242.40 610.97 Z" fill="none" stroke="#363636" stroke-width="1" stroke-linejoin="round"/>
<path d="M309.90 543.72 L313.80 550.62 L306.00 550.62 Z" fill="none" stroke="#363636" stroke-width="1" stroke-linejoin="round"/>
<path d="M119.10 651.76 L123.00 658.66 L115.20 658.66 Z" fill="none" stroke="#363636" stroke-width="1" stroke-linejoin="round"/>
<path d="M182.90 646.27 L186.80 653.17 L179.00 653.17 Z" fill="none" stroke="#363636" stroke-width="1" stroke-linejoin="round"/>
<path d="M246.30 651.76 L250.20 658.66 L242.40 658.66 Z" fill="none" stroke="#363636" stroke-width="1" stroke-linejoin="round"/>
<path d="M309.90 648.38 L313.80 655.28 L306.00 655.28 Z" fill="none" stroke="#363636" stroke-width="1" stroke-linejoin="round"/>
<path d="M119.10 650.91 L123.00 657.81 L115.20 657.81 Z" fill="none" stroke="#363636" stroke-width="1" stroke-linejoin="round"/>
<path d="M182.90 649.22 L186.80 656.12 L179.00 656.12 Z" fill="none" stroke="#363636" stroke-width="1" stroke-linejoin="round"/>
<path d="M246.30 652.60 L250.20 659.50 L242.40 659.50 Z" fill="none" stroke="#363636" stroke-width="1" stroke-linejoin="round"/>
<path d="M309.90 650.49 L313.80 657.39 L306.00 657.39 Z" fill="none" stroke="#363636" stroke-width="1" stroke-linejoin="round"/>
<path d="M119.10 652.60 L123.00 659.50 L115.20 659.50 Z" fill="none" stroke="#363636" stroke-width="1" stroke-linejoin="round"/>
<path d="M182.90 651.33 L186.80 658.23 L179.00 658.23 Z" fill="none" stroke="#363636" stroke-width="1" stroke-linejoin="round"/>
<path d="M246.30 651.33 L250.20 658.23 L242.40 658.23 Z" fill="none" stroke="#363636" stroke-width="1" stroke-linejoin="round"/>
<path d="M309.90 647.54 L313.80 654.44 L306.00 654.44 Z" fill="none" stroke="#363636" stroke-width="1" stroke-linejoin="round"/>
<path d="M119.10 652.18 L123.00 659.08 L115.20 659.08 Z" fill="none" stroke="#363636" stroke-width="1" stroke-linejoin="round"/>
<path d="M182.90 652.18 L186.80 659.08 L179.00 659.08 Z" fill="none" stroke="#363636" stroke-width="1" stroke-linejoin="round"/>
<path d="M246.30 652.18 L250.20 659.08 L242.40 659.08 Z" fill="none" stroke="#363636" stroke-width="1" stroke-linejoin="round"/>
<path d="M309.90 651.76 L313.80 658.66 L306.00 658.66 Z" fill="none" stroke="#363636" stroke-width="1" stroke-linejoin="round"/>
</g>
<text transform="translate(369.10 466.50)" font-size="14.8" text-anchor="start" font-weight="bold" fill="#111">F</text>
<line x1="421.10" y1="488.30" x2="421.10" y2="655.80" stroke="#939393" stroke-width="1.5"/>
<line x1="418.60" y1="655.80" x2="674.50" y2="655.80" stroke="#939393" stroke-width="1.5"/>
<line x1="418.30" y1="655.80" x2="421.10" y2="655.80" stroke="#939393" stroke-width="1.3"/>
<text transform="translate(416.50 660.70) scale(0.95 1)" font-size="14.6" text-anchor="end" fill="#222" stroke="#222" stroke-width="0.28">0</text>
<line x1="418.30" y1="622.30" x2="421.10" y2="622.30" stroke="#939393" stroke-width="1.3"/>
<text transform="translate(416.50 627.20) scale(0.95 1)" font-size="14.6" text-anchor="end" fill="#222" stroke="#222" stroke-width="0.28">10</text>
<line x1="418.30" y1="588.80" x2="421.10" y2="588.80" stroke="#939393" stroke-width="1.3"/>
<text transform="translate(416.50 593.70) scale(0.95 1)" font-size="14.6" text-anchor="end" fill="#222" stroke="#222" stroke-width="0.28">20</text>
<line x1="418.30" y1="555.30" x2="421.10" y2="555.30" stroke="#939393" stroke-width="1.3"/>
<text transform="translate(416.50 560.20) scale(0.95 1)" font-size="14.6" text-anchor="end" fill="#222" stroke="#222" stroke-width="0.28">30</text>
<line x1="418.30" y1="521.80" x2="421.10" y2="521.80" stroke="#939393" stroke-width="1.3"/>
<text transform="translate(416.50 526.70) scale(0.95 1)" font-size="14.6" text-anchor="end" fill="#222" stroke="#222" stroke-width="0.28">40</text>
<line x1="418.30" y1="488.30" x2="421.10" y2="488.30" stroke="#939393" stroke-width="1.3"/>
<text transform="translate(416.50 493.20) scale(0.95 1)" font-size="14.6" text-anchor="end" fill="#222" stroke="#222" stroke-width="0.28">50</text>
<text transform="translate(452.90 674.40) scale(0.95 1)" font-size="14.6" text-anchor="middle" fill="#222" stroke="#222" stroke-width="0.28">7</text>
<text transform="translate(516.00 674.40) scale(0.95 1)" font-size="14.6" text-anchor="middle" fill="#222" stroke="#222" stroke-width="0.28">8</text>
<text transform="translate(579.80 674.40) scale(0.95 1)" font-size="14.6" text-anchor="middle" fill="#222" stroke="#222" stroke-width="0.28">9</text>
<text transform="translate(643.20 674.40) scale(0.95 1)" font-size="14.6" text-anchor="middle" fill="#222" stroke="#222" stroke-width="0.28">10</text>
<text transform="translate(499.50 690.30) scale(0.97 1)" font-size="14.2" text-anchor="start" fill="#222" stroke="#222" stroke-width="0.28">Postnatal weeks</text>
<text transform="translate(389.40 641.70) rotate(-90) scale(0.95 1)" font-size="14.4" text-anchor="start" fill="#222" stroke="#222" stroke-width="0.28">Number of 22-kHz calls</text>
<g>
<polyline points="452.90,518.45 516.00,655.80 579.80,652.45 643.20,655.80" stroke="#505050" stroke-width="1.1" fill="none"/>
<polyline points="452.90,645.75 516.00,652.45 579.80,649.10 643.20,655.80" stroke="#505050" stroke-width="1.1" fill="none"/>
<polyline points="452.90,655.80 516.00,655.80 579.80,652.45 643.20,655.80" stroke="#505050" stroke-width="1.1" fill="none"/>
<polyline points="452.90,655.80 516.00,652.45 579.80,655.80 643.20,655.80" stroke="#505050" stroke-width="1.1" fill="none"/>
<polyline points="452.90,655.80 516.00,655.80 579.80,655.80 643.20,655.80" stroke="#505050" stroke-width="1.1" fill="none"/>
<path d="M452.90 514.85 L456.80 521.75 L449.00 521.75 Z" fill="none" stroke="#363636" stroke-width="1" stroke-linejoin="round"/>
<path d="M516.00 652.20 L519.90 659.10 L512.10 659.10 Z" fill="none" stroke="#363636" stroke-width="1" stroke-linejoin="round"/>
<path d="M579.80 648.85 L583.70 655.75 L575.90 655.75 Z" fill="none" stroke="#363636" stroke-width="1" stroke-linejoin="round"/>
<path d="M643.20 652.20 L647.10 659.10 L639.30 659.10 Z" fill="none" stroke="#363636" stroke-width="1" stroke-linejoin="round"/>
<path d="M452.90 642.15 L456.80 649.05 L449.00 649.05 Z" fill="none" stroke="#363636" stroke-width="1" stroke-linejoin="round"/>
<path d="M516.00 648.85 L519.90 655.75 L512.10 655.75 Z" fill="none" stroke="#363636" stroke-width="1" stroke-linejoin="round"/>
<path d="M579.80 645.50 L583.70 652.40 L575.90 652.40 Z" fill="none" stroke="#363636" stroke-width="1" stroke-linejoin="round"/>
<path d="M643.20 652.20 L647.10 659.10 L639.30 659.10 Z" fill="none" stroke="#363636" stroke-width="1" stroke-linejoin="round"/>
<path d="M452.90 652.20 L456.80 659.10 L449.00 659.10 Z" fill="none" stroke="#363636" stroke-width="1" stroke-linejoin="round"/>
<path d="M516.00 652.20 L519.90 659.10 L512.10 659.10 Z" fill="none" stroke="#363636" stroke-width="1" stroke-linejoin="round"/>
<path d="M579.80 648.85 L583.70 655.75 L575.90 655.75 Z" fill="none" stroke="#363636" stroke-width="1" stroke-linejoin="round"/>
<path d="M643.20 652.20 L647.10 659.10 L639.30 659.10 Z" fill="none" stroke="#363636" stroke-width="1" stroke-linejoin="round"/>
<path d="M452.90 652.20 L456.80 659.10 L449.00 659.10 Z" fill="none" stroke="#363636" stroke-width="1" stroke-linejoin="round"/>
<path d="M516.00 648.85 L519.90 655.75 L512.10 655.75 Z" fill="none" stroke="#363636" stroke-width="1" stroke-linejoin="round"/>
<path d="M579.80 652.20 L583.70 659.10 L575.90 659.10 Z" fill="none" stroke="#363636" stroke-width="1" stroke-linejoin="round"/>
<path d="M643.20 652.20 L647.10 659.10 L639.30 659.10 Z" fill="none" stroke="#363636" stroke-width="1" stroke-linejoin="round"/>
<path d="M452.90 652.20 L456.80 659.10 L449.00 659.10 Z" fill="none" stroke="#363636" stroke-width="1" stroke-linejoin="round"/>
<path d="M516.00 652.20 L519.90 659.10 L512.10 659.10 Z" fill="none" stroke="#363636" stroke-width="1" stroke-linejoin="round"/>
<path d="M579.80 652.20 L583.70 659.10 L575.90 659.10 Z" fill="none" stroke="#363636" stroke-width="1" stroke-linejoin="round"/>
<path d="M643.20 652.20 L647.10 659.10 L639.30 659.10 Z" fill="none" stroke="#363636" stroke-width="1" stroke-linejoin="round"/>
</g>
<text transform="translate(61.00 720.00)" font-size="14.8" text-anchor="start" font-weight="bold" fill="#111">G</text>
<text transform="translate(19.00 871.20) rotate(-90) scale(0.92 1)" font-size="16.6" text-anchor="start" fill="#222" stroke="#222" stroke-width="0.28">S3-10</text>
<line x1="25.20" y1="774.40" x2="25.20" y2="941.40" stroke="#7e7e7e" stroke-width="1.7"/>
<line x1="80.70" y1="771.20" x2="80.70" y2="940.30" stroke="#939393" stroke-width="1.5"/>
<line x1="78.20" y1="940.30" x2="338.50" y2="940.30" stroke="#939393" stroke-width="1.5"/>
<line x1="77.90" y1="940.30" x2="80.70" y2="940.30" stroke="#939393" stroke-width="1.3"/>
<text transform="translate(75.40 945.20) scale(0.95 1)" font-size="14.6" text-anchor="end" fill="#222" stroke="#222" stroke-width="0.28">0</text>
<line x1="77.90" y1="883.93" x2="80.70" y2="883.93" stroke="#939393" stroke-width="1.3"/>
<text transform="translate(75.40 888.83) scale(0.95 1)" font-size="14.6" text-anchor="end" fill="#222" stroke="#222" stroke-width="0.28">300</text>
<line x1="77.90" y1="827.57" x2="80.70" y2="827.57" stroke="#939393" stroke-width="1.3"/>
<text transform="translate(75.40 832.47) scale(0.95 1)" font-size="14.6" text-anchor="end" fill="#222" stroke="#222" stroke-width="0.28">600</text>
<line x1="77.90" y1="771.20" x2="80.70" y2="771.20" stroke="#939393" stroke-width="1.3"/>
<text transform="translate(75.40 776.10) scale(0.95 1)" font-size="14.6" text-anchor="end" fill="#222" stroke="#222" stroke-width="0.28">900</text>
<text transform="translate(97.40 959.20) scale(0.95 1)" font-size="14.6" text-anchor="middle" fill="#222" stroke="#222" stroke-width="0.28">3</text>
<text transform="translate(131.43 959.20) scale(0.95 1)" font-size="14.6" text-anchor="middle" fill="#222" stroke="#222" stroke-width="0.28">4</text>
<text transform="translate(165.46 959.20) scale(0.95 1)" font-size="14.6" text-anchor="middle" fill="#222" stroke="#222" stroke-width="0.28">5</text>
<text transform="translate(199.49 959.20) scale(0.95 1)" font-size="14.6" text-anchor="middle" fill="#222" stroke="#222" stroke-width="0.28">6</text>
<text transform="translate(233.52 959.20) scale(0.95 1)" font-size="14.6" text-anchor="middle" fill="#222" stroke="#222" stroke-width="0.28">7</text>
<text transform="translate(267.55 959.20) scale(0.95 1)" font-size="14.6" text-anchor="middle" fill="#222" stroke="#222" stroke-width="0.28">8</text>
<text transform="translate(301.58 959.20) scale(0.95 1)" font-size="14.6" text-anchor="middle" fill="#222" stroke="#222" stroke-width="0.28">9</text>
<text transform="translate(335.61 959.20) scale(0.95 1)" font-size="14.6" text-anchor="middle" fill="#222" stroke="#222" stroke-width="0.28">10</text>
<text transform="translate(158.80 974.10) scale(0.97 1)" font-size="14.2" text-anchor="start" fill="#222" stroke="#222" stroke-width="0.28">Postnatal weeks</text>
<text transform="translate(48.90 925.40) rotate(-90) scale(0.95 1)" font-size="14.4" text-anchor="start" fill="#222" stroke="#222" stroke-width="0.28">Number of 50-kHz calls</text>
<g>
<polyline points="97.40,940.30 131.43,857.82 165.46,847.48 199.49,841.28 233.52,817.80 267.55,853.49 301.58,842.41 335.61,870.22" stroke="#505050" stroke-width="1.1" fill="none"/>
<polyline points="97.40,933.35 131.43,924.14 165.46,868.34 199.49,882.99 233.52,798.63 267.55,808.03 301.58,820.43 335.61,784.73" stroke="#505050" stroke-width="1.1" fill="none"/>
<polyline points="97.40,940.30 131.43,936.17 165.46,921.51 199.49,885.06 233.52,846.35 267.55,821.18 301.58,894.27 335.61,895.02" stroke="#505050" stroke-width="1.1" fill="none"/>
<polyline points="97.40,940.30 131.43,893.33 165.46,917.00 199.49,929.97 233.52,934.66 267.55,936.54 301.58,937.48 335.61,935.60" stroke="#505050" stroke-width="1.1" fill="none"/>
<polyline points="97.40,940.30 131.43,940.30 165.46,924.14 199.49,907.98 233.52,890.13 267.55,863.83 301.58,882.99 335.61,882.99" stroke="#505050" stroke-width="1.1" fill="none"/>
<polyline points="97.40,940.30 131.43,940.30 165.46,940.30 199.49,932.78 233.52,908.17 267.55,930.91 301.58,906.67 335.61,917.57" stroke="#505050" stroke-width="1.1" fill="none"/>
<polyline points="97.40,940.30 131.43,940.30 165.46,940.30 199.49,937.48 233.52,917.94 267.55,920.57 301.58,936.54 335.61,922.83" stroke="#505050" stroke-width="1.1" fill="none"/>
<polyline points="97.40,940.30 131.43,940.30 165.46,940.30 199.49,933.72 233.52,932.78 267.55,929.03 301.58,934.66 335.61,934.66" stroke="#505050" stroke-width="1.1" fill="none"/>
<polyline points="97.40,940.30 131.43,939.36 165.46,940.30 199.49,929.97 233.52,934.66 267.55,932.78 301.58,938.42 335.61,936.54" stroke="#505050" stroke-width="1.1" fill="none"/>
<polyline points="97.40,940.30 131.43,940.30 165.46,940.30 199.49,940.30 233.52,938.42 267.55,936.54 301.58,940.30 335.61,940.30" stroke="#505050" stroke-width="1.1" fill="none"/>
<polyline points="97.40,940.30 131.43,940.30 165.46,939.36 199.49,936.54 233.52,930.91 267.55,938.42 301.58,939.36 335.61,933.72" stroke="#505050" stroke-width="1.1" fill="none"/>
<polyline points="97.40,940.30 131.43,940.30 165.46,940.30 199.49,939.36 233.52,936.54 267.55,934.66 301.58,940.30 335.61,940.30" stroke="#505050" stroke-width="1.1" fill="none"/>
<circle cx="97.40" cy="940.30" r="3.85" fill="none" stroke="#363636" stroke-width="1"/>
<circle cx="131.43" cy="857.82" r="3.85" fill="none" stroke="#363636" stroke-width="1"/>
<circle cx="165.46" cy="847.48" r="3.85" fill="none" stroke="#363636" stroke-width="1"/>
<circle cx="199.49" cy="841.28" r="3.85" fill="none" stroke="#363636" stroke-width="1"/>
<circle cx="233.52" cy="817.80" r="3.85" fill="none" stroke="#363636" stroke-width="1"/>
<circle cx="267.55" cy="853.49" r="3.85" fill="none" stroke="#363636" stroke-width="1"/>
<circle cx="301.58" cy="842.41" r="3.85" fill="none" stroke="#363636" stroke-width="1"/>
<circle cx="335.61" cy="870.22" r="3.85" fill="none" stroke="#363636" stroke-width="1"/>
<circle cx="97.40" cy="933.35" r="3.85" fill="none" stroke="#363636" stroke-width="1"/>
<circle cx="131.43" cy="924.14" r="3.85" fill="none" stroke="#363636" stroke-width="1"/>
<circle cx="165.46" cy="868.34" r="3.85" fill="none" stroke="#363636" stroke-width="1"/>
<circle cx="199.49" cy="882.99" r="3.85" fill="none" stroke="#363636" stroke-width="1"/>
<circle cx="233.52" cy="798.63" r="3.85" fill="none" stroke="#363636" stroke-width="1"/>
<circle cx="267.55" cy="808.03" r="3.85" fill="none" stroke="#363636" stroke-width="1"/>
<circle cx="301.58" cy="820.43" r="3.85" fill="none" stroke="#363636" stroke-width="1"/>
<circle cx="335.61" cy="784.73" r="3.85" fill="none" stroke="#363636" stroke-width="1"/>
<circle cx="97.40" cy="940.30" r="3.85" fill="none" stroke="#363636" stroke-width="1"/>
<circle cx="131.43" cy="936.17" r="3.85" fill="none" stroke="#363636" stroke-width="1"/>
<circle cx="165.46" cy="921.51" r="3.85" fill="none" stroke="#363636" stroke-width="1"/>
<circle cx="199.49" cy="885.06" r="3.85" fill="none" stroke="#363636" stroke-width="1"/>
<circle cx="233.52" cy="846.35" r="3.85" fill="none" stroke="#363636" stroke-width="1"/>
<circle cx="267.55" cy="821.18" r="3.85" fill="none" stroke="#363636" stroke-width="1"/>
<circle cx="301.58" cy="894.27" r="3.85" fill="none" stroke="#363636" stroke-width="1"/>
<circle cx="335.61" cy="895.02" r="3.85" fill="none" stroke="#363636" stroke-width="1"/>
<circle cx="97.40" cy="940.30" r="3.85" fill="none" stroke="#363636" stroke-width="1"/>
<circle cx="131.43" cy="893.33" r="3.85" fill="none" stroke="#363636" stroke-width="1"/>
<circle cx="165.46" cy="917.00" r="3.85" fill="none" stroke="#363636" stroke-width="1"/>
<circle cx="199.49" cy="929.97" r="3.85" fill="none" stroke="#363636" stroke-width="1"/>
<circle cx="233.52" cy="934.66" r="3.85" fill="none" stroke="#363636" stroke-width="1"/>
<circle cx="267.55" cy="936.54" r="3.85" fill="none" stroke="#363636" stroke-width="1"/>
<circle cx="301.58" cy="937.48" r="3.85" fill="none" stroke="#363636" stroke-width="1"/>
<circle cx="335.61" cy="935.60" r="3.85" fill="none" stroke="#363636" stroke-width="1"/>
<circle cx="97.40" cy="940.30" r="3.85" fill="none" stroke="#363636" stroke-width="1"/>
<circle cx="131.43" cy="940.30" r="3.85" fill="none" stroke="#363636" stroke-width="1"/>
<circle cx="165.46" cy="924.14" r="3.85" fill="none" stroke="#363636" stroke-width="1"/>
<circle cx="199.49" cy="907.98" r="3.85" fill="none" stroke="#363636" stroke-width="1"/>
<circle cx="233.52" cy="890.13" r="3.85" fill="none" stroke="#363636" stroke-width="1"/>
<circle cx="267.55" cy="863.83" r="3.85" fill="none" stroke="#363636" stroke-width="1"/>
<circle cx="301.58" cy="882.99" r="3.85" fill="none" stroke="#363636" stroke-width="1"/>
<circle cx="335.61" cy="882.99" r="3.85" fill="none" stroke="#363636" stroke-width="1"/>
<circle cx="97.40" cy="940.30" r="3.85" fill="none" stroke="#363636" stroke-width="1"/>
<circle cx="131.43" cy="940.30" r="3.85" fill="none" stroke="#363636" stroke-width="1"/>
<circle cx="165.46" cy="940.30" r="3.85" fill="none" stroke="#363636" stroke-width="1"/>
<circle cx="199.49" cy="932.78" r="3.85" fill="none" stroke="#363636" stroke-width="1"/>
<circle cx="233.52" cy="908.17" r="3.85" fill="none" stroke="#363636" stroke-width="1"/>
<circle cx="267.55" cy="930.91" r="3.85" fill="none" stroke="#363636" stroke-width="1"/>
<circle cx="301.58" cy="906.67" r="3.85" fill="none" stroke="#363636" stroke-width="1"/>
<circle cx="335.61" cy="917.57" r="3.85" fill="none" stroke="#363636" stroke-width="1"/>
<circle cx="97.40" cy="940.30" r="3.85" fill="none" stroke="#363636" stroke-width="1"/>
<circle cx="131.43" cy="940.30" r="3.85" fill="none" stroke="#363636" stroke-width="1"/>
<circle cx="165.46" cy="940.30" r="3.85" fill="none" stroke="#363636" stroke-width="1"/>
<circle cx="199.49" cy="937.48" r="3.85" fill="none" stroke="#363636" stroke-width="1"/>
<circle cx="233.52" cy="917.94" r="3.85" fill="none" stroke="#363636" stroke-width="1"/>
<circle cx="267.55" cy="920.57" r="3.85" fill="none" stroke="#363636" stroke-width="1"/>
<circle cx="301.58" cy="936.54" r="3.85" fill="none" stroke="#363636" stroke-width="1"/>
<circle cx="335.61" cy="922.83" r="3.85" fill="none" stroke="#363636" stroke-width="1"/>
<circle cx="97.40" cy="940.30" r="3.85" fill="none" stroke="#363636" stroke-width="1"/>
<circle cx="131.43" cy="940.30" r="3.85" fill="none" stroke="#363636" stroke-width="1"/>
<circle cx="165.46" cy="940.30" r="3.85" fill="none" stroke="#363636" stroke-width="1"/>
<circle cx="199.49" cy="933.72" r="3.85" fill="none" stroke="#363636" stroke-width="1"/>
<circle cx="233.52" cy="932.78" r="3.85" fill="none" stroke="#363636" stroke-width="1"/>
<circle cx="267.55" cy="929.03" r="3.85" fill="none" stroke="#363636" stroke-width="1"/>
<circle cx="301.58" cy="934.66" r="3.85" fill="none" stroke="#363636" stroke-width="1"/>
<circle cx="335.61" cy="934.66" r="3.85" fill="none" stroke="#363636" stroke-width="1"/>
<circle cx="97.40" cy="940.30" r="3.85" fill="none" stroke="#363636" stroke-width="1"/>
<circle cx="131.43" cy="939.36" r="3.85" fill="none" stroke="#363636" stroke-width="1"/>
<circle cx="165.46" cy="940.30" r="3.85" fill="none" stroke="#363636" stroke-width="1"/>
<circle cx="199.49" cy="929.97" r="3.85" fill="none" stroke="#363636" stroke-width="1"/>
<circle cx="233.52" cy="934.66" r="3.85" fill="none" stroke="#363636" stroke-width="1"/>
<circle cx="267.55" cy="932.78" r="3.85" fill="none" stroke="#363636" stroke-width="1"/>
<circle cx="301.58" cy="938.42" r="3.85" fill="none" stroke="#363636" stroke-width="1"/>
<circle cx="335.61" cy="936.54" r="3.85" fill="none" stroke="#363636" stroke-width="1"/>
<circle cx="97.40" cy="940.30" r="3.85" fill="none" stroke="#363636" stroke-width="1"/>
<circle cx="131.43" cy="940.30" r="3.85" fill="none" stroke="#363636" stroke-width="1"/>
<circle cx="165.46" cy="940.30" r="3.85" fill="none" stroke="#363636" stroke-width="1"/>
<circle cx="199.49" cy="940.30" r="3.85" fill="none" stroke="#363636" stroke-width="1"/>
<circle cx="233.52" cy="938.42" r="3.85" fill="none" stroke="#363636" stroke-width="1"/>
<circle cx="267.55" cy="936.54" r="3.85" fill="none" stroke="#363636" stroke-width="1"/>
<circle cx="301.58" cy="940.30" r="3.85" fill="none" stroke="#363636" stroke-width="1"/>
<circle cx="335.61" cy="940.30" r="3.85" fill="none" stroke="#363636" stroke-width="1"/>
<circle cx="97.40" cy="940.30" r="3.85" fill="none" stroke="#363636" stroke-width="1"/>
<circle cx="131.43" cy="940.30" r="3.85" fill="none" stroke="#363636" stroke-width="1"/>
<circle cx="165.46" cy="939.36" r="3.85" fill="none" stroke="#363636" stroke-width="1"/>
<circle cx="199.49" cy="936.54" r="3.85" fill="none" stroke="#363636" stroke-width="1"/>
<circle cx="233.52" cy="930.91" r="3.85" fill="none" stroke="#363636" stroke-width="1"/>
<circle cx="267.55" cy="938.42" r="3.85" fill="none" stroke="#363636" stroke-width="1"/>
<circle cx="301.58" cy="939.36" r="3.85" fill="none" stroke="#363636" stroke-width="1"/>
<circle cx="335.61" cy="933.72" r="3.85" fill="none" stroke="#363636" stroke-width="1"/>
<circle cx="97.40" cy="940.30" r="3.85" fill="none" stroke="#363636" stroke-width="1"/>
<circle cx="131.43" cy="940.30" r="3.85" fill="none" stroke="#363636" stroke-width="1"/>
<circle cx="165.46" cy="940.30" r="3.85" fill="none" stroke="#363636" stroke-width="1"/>
<circle cx="199.49" cy="939.36" r="3.85" fill="none" stroke="#363636" stroke-width="1"/>
<circle cx="233.52" cy="936.54" r="3.85" fill="none" stroke="#363636" stroke-width="1"/>
<circle cx="267.55" cy="934.66" r="3.85" fill="none" stroke="#363636" stroke-width="1"/>
<circle cx="301.58" cy="940.30" r="3.85" fill="none" stroke="#363636" stroke-width="1"/>
<circle cx="335.61" cy="940.30" r="3.85" fill="none" stroke="#363636" stroke-width="1"/>
</g>
<g fill="none" stroke="#a4a4a4" stroke-width="1.3">
<polyline points="95.3,755.2 95.3,744.2 285.2,744.2 285.2,773.5"/>
<line x1="229.4" y1="773.5" x2="341.4" y2="773.5"/>
<polyline points="94.7,856.2 94.7,761.5 199.6,761.5 199.6,774.2"/>
<polyline points="127,821.1 127,783.4 249.4,783.4 249.4,788.9"/>
<line x1="229.4" y1="788.9" x2="269.7" y2="788.9"/>
</g>
<path d="M143.40 750.80L143.40 757.40M140.54 752.45L146.26 755.75M140.54 755.75L146.26 752.45" stroke="#444" stroke-width="1.5" stroke-linecap="round" fill="none"/>
<circle cx="143.4" cy="754.1" r="1.3" fill="#666"/>
<g fill="#2a2a2a">
<ellipse cx="185.6" cy="728.0999999999999" rx="1.25" ry="1.3"/>
<ellipse cx="183.2" cy="731.0999999999999" rx="1.6" ry="1.1"/>
<ellipse cx="188.0" cy="731.0999999999999" rx="1.6" ry="1.1"/>
<ellipse cx="185.6" cy="733.8" rx="1.15" ry="1.5"/>
<path d="M184.7 734.0999999999999 L186.5 734.0999999999999 L185.79999999999998 742.3 L185.4 742.3 Z" fill="#555"/>
<rect x="184.79999999999998" y="729.4" width="1.6" height="3.4" fill="#888"/>
</g>
<g fill="#2a2a2a">
<ellipse cx="173.0" cy="766.5" rx="1.25" ry="1.3"/>
<ellipse cx="170.6" cy="769.5" rx="1.6" ry="1.1"/>
<ellipse cx="175.4" cy="769.5" rx="1.6" ry="1.1"/>
<ellipse cx="173.0" cy="772.2" rx="1.15" ry="1.5"/>
<path d="M172.1 772.5 L173.9 772.5 L173.2 780.7 L172.8 780.7 Z" fill="#555"/>
<rect x="172.2" y="767.8000000000001" width="1.6" height="3.4" fill="#888"/>
</g>
<text transform="translate(368.90 720.00)" font-size="14.8" text-anchor="start" font-weight="bold" fill="#111">H</text>
<line x1="421.10" y1="772.70" x2="421.10" y2="940.70" stroke="#939393" stroke-width="1.5"/>
<line x1="418.60" y1="940.70" x2="674.50" y2="940.70" stroke="#939393" stroke-width="1.5"/>
<line x1="418.30" y1="940.70" x2="421.10" y2="940.70" stroke="#939393" stroke-width="1.3"/>
<text transform="translate(416.50 945.60) scale(0.95 1)" font-size="14.6" text-anchor="end" fill="#222" stroke="#222" stroke-width="0.28">0</text>
<line x1="418.30" y1="907.10" x2="421.10" y2="907.10" stroke="#939393" stroke-width="1.3"/>
<text transform="translate(416.50 912.00) scale(0.95 1)" font-size="14.6" text-anchor="end" fill="#222" stroke="#222" stroke-width="0.28">10</text>
<line x1="418.30" y1="873.50" x2="421.10" y2="873.50" stroke="#939393" stroke-width="1.3"/>
<text transform="translate(416.50 878.40) scale(0.95 1)" font-size="14.6" text-anchor="end" fill="#222" stroke="#222" stroke-width="0.28">20</text>
<line x1="418.30" y1="839.90" x2="421.10" y2="839.90" stroke="#939393" stroke-width="1.3"/>
<text transform="translate(416.50 844.80) scale(0.95 1)" font-size="14.6" text-anchor="end" fill="#222" stroke="#222" stroke-width="0.28">30</text>
<line x1="418.30" y1="806.30" x2="421.10" y2="806.30" stroke="#939393" stroke-width="1.3"/>
<text transform="translate(416.50 811.20) scale(0.95 1)" font-size="14.6" text-anchor="end" fill="#222" stroke="#222" stroke-width="0.28">40</text>
<line x1="418.30" y1="772.70" x2="421.10" y2="772.70" stroke="#939393" stroke-width="1.3"/>
<text transform="translate(416.50 777.60) scale(0.95 1)" font-size="14.6" text-anchor="end" fill="#222" stroke="#222" stroke-width="0.28">50</text>
<text transform="translate(436.60 959.20) scale(0.95 1)" font-size="14.6" text-anchor="middle" fill="#222" stroke="#222" stroke-width="0.28">3</text>
<text transform="translate(468.39 959.20) scale(0.95 1)" font-size="14.6" text-anchor="middle" fill="#222" stroke="#222" stroke-width="0.28">4</text>
<text transform="translate(500.18 959.20) scale(0.95 1)" font-size="14.6" text-anchor="middle" fill="#222" stroke="#222" stroke-width="0.28">5</text>
<text transform="translate(531.97 959.20) scale(0.95 1)" font-size="14.6" text-anchor="middle" fill="#222" stroke="#222" stroke-width="0.28">6</text>
<text transform="translate(563.76 959.20) scale(0.95 1)" font-size="14.6" text-anchor="middle" fill="#222" stroke="#222" stroke-width="0.28">7</text>
<text transform="translate(595.55 959.20) scale(0.95 1)" font-size="14.6" text-anchor="middle" fill="#222" stroke="#222" stroke-width="0.28">8</text>
<text transform="translate(627.34 959.20) scale(0.95 1)" font-size="14.6" text-anchor="middle" fill="#222" stroke="#222" stroke-width="0.28">9</text>
<text transform="translate(659.13 959.20) scale(0.95 1)" font-size="14.6" text-anchor="middle" fill="#222" stroke="#222" stroke-width="0.28">10</text>
<text transform="translate(499.50 974.10) scale(0.97 1)" font-size="14.2" text-anchor="start" fill="#222" stroke="#222" stroke-width="0.28">Postnatal weeks</text>
<text transform="translate(389.40 926.10) rotate(-90) scale(0.95 1)" font-size="14.4" text-anchor="start" fill="#222" stroke="#222" stroke-width="0.28">Number of 22-kHz calls</text>
<g>
<polyline points="436.60,940.70 468.39,923.90 500.18,786.14 531.97,933.98 563.76,937.34 595.55,937.34 627.34,940.70 659.13,940.70" stroke="#505050" stroke-width="1.1" fill="none"/>
<polyline points="436.60,937.34 468.39,930.62 500.18,940.70 531.97,876.86 563.76,940.70 595.55,933.98 627.34,937.34 659.13,866.78" stroke="#505050" stroke-width="1.1" fill="none"/>
<polyline points="436.60,940.70 468.39,940.70 500.18,937.34 531.97,940.70 563.76,913.82 595.55,937.34 627.34,940.70 659.13,900.38" stroke="#505050" stroke-width="1.1" fill="none"/>
<polyline points="436.60,940.70 468.39,940.70 500.18,940.70 531.97,940.70 563.76,940.70 595.55,940.70 627.34,940.70 659.13,937.34" stroke="#505050" stroke-width="1.1" fill="none"/>
<polyline points="436.60,937.34 468.39,923.90 500.18,940.70 531.97,937.34 563.76,937.34 595.55,933.98 627.34,940.70 659.13,940.70" stroke="#505050" stroke-width="1.1" fill="none"/>
<circle cx="436.60" cy="940.70" r="3.85" fill="none" stroke="#363636" stroke-width="1"/>
<circle cx="468.39" cy="923.90" r="3.85" fill="none" stroke="#363636" stroke-width="1"/>
<circle cx="500.18" cy="786.14" r="3.85" fill="none" stroke="#363636" stroke-width="1"/>
<circle cx="531.97" cy="933.98" r="3.85" fill="none" stroke="#363636" stroke-width="1"/>
<circle cx="563.76" cy="937.34" r="3.85" fill="none" stroke="#363636" stroke-width="1"/>
<circle cx="595.55" cy="937.34" r="3.85" fill="none" stroke="#363636" stroke-width="1"/>
<circle cx="627.34" cy="940.70" r="3.85" fill="none" stroke="#363636" stroke-width="1"/>
<circle cx="659.13" cy="940.70" r="3.85" fill="none" stroke="#363636" stroke-width="1"/>
<circle cx="436.60" cy="937.34" r="3.85" fill="none" stroke="#363636" stroke-width="1"/>
<circle cx="468.39" cy="930.62" r="3.85" fill="none" stroke="#363636" stroke-width="1"/>
<circle cx="500.18" cy="940.70" r="3.85" fill="none" stroke="#363636" stroke-width="1"/>
<circle cx="531.97" cy="876.86" r="3.85" fill="none" stroke="#363636" stroke-width="1"/>
<circle cx="563.76" cy="940.70" r="3.85" fill="none" stroke="#363636" stroke-width="1"/>
<circle cx="595.55" cy="933.98" r="3.85" fill="none" stroke="#363636" stroke-width="1"/>
<circle cx="627.34" cy="937.34" r="3.85" fill="none" stroke="#363636" stroke-width="1"/>
<circle cx="659.13" cy="866.78" r="3.85" fill="none" stroke="#363636" stroke-width="1"/>
<circle cx="436.60" cy="940.70" r="3.85" fill="none" stroke="#363636" stroke-width="1"/>
<circle cx="468.39" cy="940.70" r="3.85" fill="none" stroke="#363636" stroke-width="1"/>
<circle cx="500.18" cy="937.34" r="3.85" fill="none" stroke="#363636" stroke-width="1"/>
<circle cx="531.97" cy="940.70" r="3.85" fill="none" stroke="#363636" stroke-width="1"/>
<circle cx="563.76" cy="913.82" r="3.85" fill="none" stroke="#363636" stroke-width="1"/>
<circle cx="595.55" cy="937.34" r="3.85" fill="none" stroke="#363636" stroke-width="1"/>
<circle cx="627.34" cy="940.70" r="3.85" fill="none" stroke="#363636" stroke-width="1"/>
<circle cx="659.13" cy="900.38" r="3.85" fill="none" stroke="#363636" stroke-width="1"/>
<circle cx="436.60" cy="940.70" r="3.85" fill="none" stroke="#363636" stroke-width="1"/>
<circle cx="468.39" cy="940.70" r="3.85" fill="none" stroke="#363636" stroke-width="1"/>
<circle cx="500.18" cy="940.70" r="3.85" fill="none" stroke="#363636" stroke-width="1"/>
<circle cx="531.97" cy="940.70" r="3.85" fill="none" stroke="#363636" stroke-width="1"/>
<circle cx="563.76" cy="940.70" r="3.85" fill="none" stroke="#363636" stroke-width="1"/>
<circle cx="595.55" cy="940.70" r="3.85" fill="none" stroke="#363636" stroke-width="1"/>
<circle cx="627.34" cy="940.70" r="3.85" fill="none" stroke="#363636" stroke-width="1"/>
<circle cx="659.13" cy="937.34" r="3.85" fill="none" stroke="#363636" stroke-width="1"/>
<circle cx="436.60" cy="937.34" r="3.85" fill="none" stroke="#363636" stroke-width="1"/>
<circle cx="468.39" cy="923.90" r="3.85" fill="none" stroke="#363636" stroke-width="1"/>
<circle cx="500.18" cy="940.70" r="3.85" fill="none" stroke="#363636" stroke-width="1"/>
<circle cx="531.97" cy="937.34" r="3.85" fill="none" stroke="#363636" stroke-width="1"/>
<circle cx="563.76" cy="937.34" r="3.85" fill="none" stroke="#363636" stroke-width="1"/>
<circle cx="595.55" cy="933.98" r="3.85" fill="none" stroke="#363636" stroke-width="1"/>
<circle cx="627.34" cy="940.70" r="3.85" fill="none" stroke="#363636" stroke-width="1"/>
<circle cx="659.13" cy="940.70" r="3.85" fill="none" stroke="#363636" stroke-width="1"/>
</g>
</svg>
</body></html>
